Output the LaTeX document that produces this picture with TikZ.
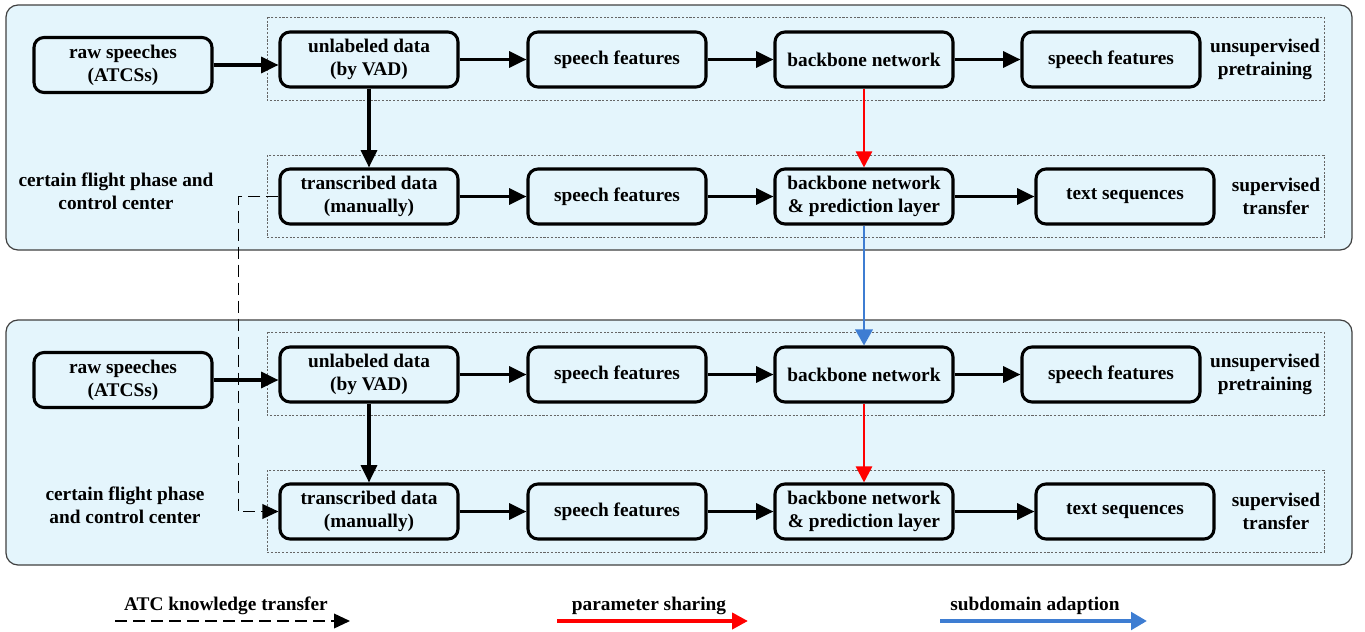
\documentclass[tikz,border=0pt]{standalone}
\usepackage{fontspec}
\setmainfont{Liberation Serif}
\usetikzlibrary{arrows.meta}
\definecolor{panelblue}{RGB}{228,245,252}
\definecolor{sharered}{RGB}{255,0,0}
\definecolor{adaptblue}{RGB}{62,125,210}
\newcommand{\diagfont}{\fontsize{14.5}{17.3}\selectfont\bfseries}
\begin{document}
\begin{tikzpicture}[x=0.75pt,y=-0.75pt,
  every node/.style={font=\diagfont,align=center},
  block/.style={draw,line width=2.3pt,rounded corners=7.5pt,fill=panelblue,
    minimum width=133.5pt,minimum height=41.25pt,inner sep=1pt},
  panel/.style={draw=black!75,line width=0.9pt,fill=panelblue,rounded corners=9pt},
  stage/.style={draw=black!60,line width=0.7pt,dash pattern=on 1.6pt off 1.2pt},
  flow/.style={line width=2.3pt,-{Triangle[length=13pt,width=12pt]}},
  share/.style={draw=sharered,line width=1.8pt,-{Triangle[length=12pt,width=12pt]}},
  adapt/.style={draw=adaptblue,line width=1.8pt,-{Triangle[length=12pt,width=13pt]}},
  transfer/.style={line width=1.2pt,dash pattern=on 9pt off 4.5pt,-{Triangle[length=12pt,width=11pt]}}]
  \useasboundingbox (0,0) rectangle (1365,632);

  \begin{scope}
    \draw[panel] (6,5) rectangle (1352,250);
    \draw[stage] (267,17) rectangle (1324,100);
    \draw[stage] (267,155) rectangle (1324,237);
    \node[block] (raw1) at (123,65) {raw speeches\\(ATCSs)};
    \node[block] (unl1) at (369,59.5) {unlabeled data\\(by VAD)};
    \node[block] (feat1) at (617,59.5) {speech features};
    \node[block] (bb1) at (864,59.5) {backbone network};
    \node[block] (out1) at (1111,59.5) {speech features};
    \node (pre1) at (1265,59) {unsupervised\\pretraining};
    \node[block] (trans1) at (369,196.5) {transcribed data\\(manually)};
    \node[block] (tfeat1) at (617,196.5) {speech features};
    \node[block] (pred1) at (864,196.5) {backbone network\\\& prediction layer};
    \node[block] (seq1) at (1125,196.5) {text sequences};
    \node (sup1) at (1276,196) {supervised\\transfer};
    \node (phase1) at (116,191) {certain flight phase and\\control center};
  \end{scope}

  \begin{scope}[shift={(0,315)}]
    \draw[panel] (6,5) rectangle (1352,250);
    \draw[stage] (267,17) rectangle (1324,100);
    \draw[stage] (267,155) rectangle (1324,237);
    \node[block] (raw2) at (123,65) {raw speeches\\(ATCSs)};
    \node[block] (unl2) at (369,59.5) {unlabeled data\\(by VAD)};
    \node[block] (feat2) at (617,59.5) {speech features};
    \node[block] (bb2) at (864,59.5) {backbone network};
    \node[block] (out2) at (1111,59.5) {speech features};
    \node (pre2) at (1265,59) {unsupervised\\pretraining};
    \node[block] (trans2) at (369,196.5) {transcribed data\\(manually)};
    \node[block] (tfeat2) at (617,196.5) {speech features};
    \node[block] (pred2) at (864,196.5) {backbone network\\\& prediction layer};
    \node[block] (seq2) at (1125,196.5) {text sequences};
    \node (sup2) at (1276,196) {supervised\\transfer};
    \node (phase2) at (125,190.5) {certain flight phase\\and control center};
  \end{scope}

  \foreach \i in {1,2} {
    \draw[flow] (raw\i.east) -- (raw\i.east -| unl\i.west);
    \draw[flow] (unl\i) -- (feat\i);
    \draw[flow] (feat\i) -- (bb\i);
    \draw[flow] (bb\i) -- (out\i);
    \draw[flow] (unl\i) -- (trans\i);
    \draw[flow] (trans\i) -- (tfeat\i);
    \draw[flow] (tfeat\i) -- (pred\i);
    \draw[flow] (pred\i) -- (seq\i);
    \draw[share] (bb\i) -- (pred\i);
  }
  \draw[adapt] (pred1) -- (bb2);
  \draw[transfer] (trans1.west) -- ++(-40,0) |- (trans2.west);

  \node (kt) at (226,606) {ATC knowledge transfer};
  \node (ps) at (649,606) {parameter sharing};
  \node (sa) at (1035,606) {subdomain adaption};
  \coordinate (kt-a) at (115,621);
  \coordinate (kt-b) at (350,621);
  \coordinate (ps-a) at (557,621);
  \coordinate (ps-b) at (748,621);
  \coordinate (sa-a) at (940,621);
  \coordinate (sa-b) at (1147,621);
  \draw[transfer] (kt-a) -- (kt-b);
  \draw[share,line width=3pt] (ps-a) -- (ps-b);
  \draw[adapt,line width=3pt] (sa-a) -- (sa-b);
\end{tikzpicture}
\end{document}
